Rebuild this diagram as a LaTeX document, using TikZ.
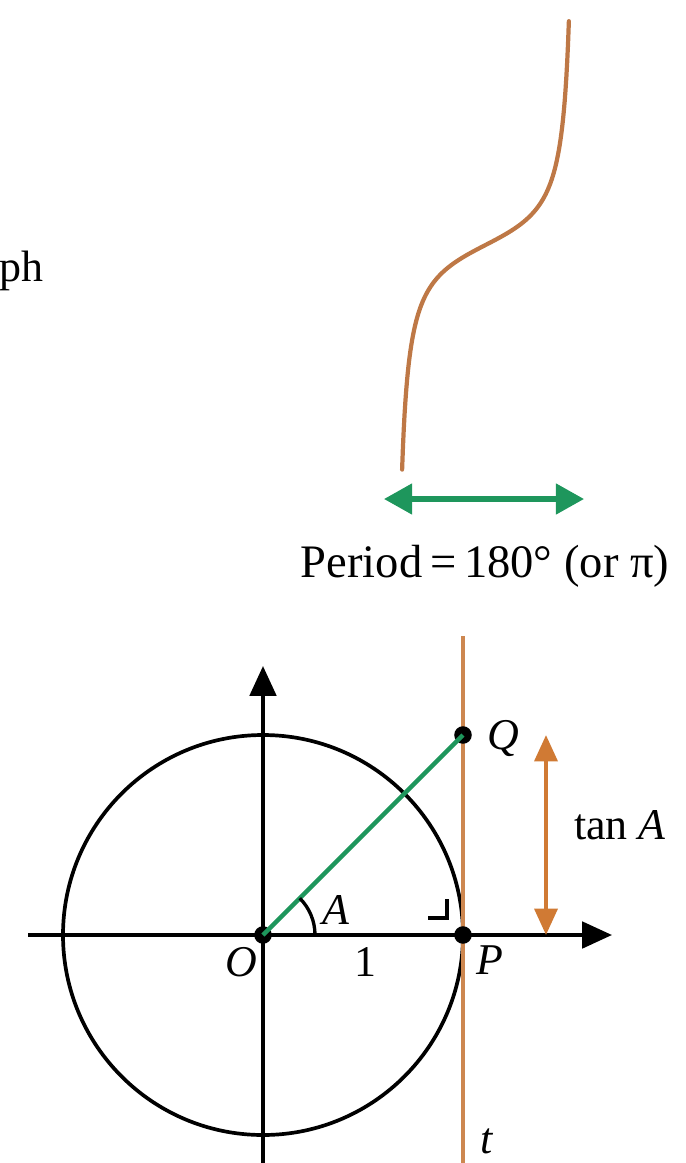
\documentclass[tikz,border=0pt]{standalone}
\usepackage{fontspec}
\setmainfont{Liberation Serif}
\usetikzlibrary{arrows.meta}
\definecolor{curveor}{RGB}{190,120,70}
\definecolor{lineor}{RGB}{205,135,80}
\definecolor{arrowor}{RGB}{208,122,52}
\definecolor{grn}{RGB}{30,150,92}
\tikzset{
  lbl/.style={font=\fontsize{25}{29}\selectfont, inner sep=0pt},
  dot/.style={circle, fill=black, inner sep=0pt, minimum size=10pt},
  axis/.style={line width=2.2pt, -{Triangle[length=17pt,width=15pt]}},
  circ/.style={line width=2.1pt},
}
\begin{document}
\begin{tikzpicture}[x=0.02cm,y=-0.02cm]
\useasboundingbox (0,0) rectangle (686,1163);
% top part
\node[lbl, anchor=base west] (ph) at (-1,281) {ph};
\draw[curveor, line width=2.4pt, line cap=round] plot[domain=-1.438:1.438, samples=200, variable=\t] ({485.5+58*\t},{245-30*tan(\t r)});
\coordinate (gl) at (384,499);
\coordinate (gr) at (584,499);
\draw[grn, line width=3pt, {Triangle[length=16pt,width=17pt]}-{Triangle[length=16pt,width=17pt]}] (gl) -- (gr);
\node[lbl, font=\fontsize{26.5}{30}\selectfont] (period) at (485,566) {Period\,=\,180° (or π)};
% bottom part
\coordinate (xl) at (28,935);
\coordinate (xr) at (612,935);
\coordinate (yb) at (263,1170);
\coordinate (yt) at (263,666);
\coordinate (ttop) at (463,636);
\coordinate (tbot) at (463,1170);
\draw[circ] (263,935) circle[radius=200];
\draw[lineor, line width=2.3pt] (ttop) -- (tbot);
\draw[axis] (xl) -- (xr);
\draw[axis] (yb) -- (yt);
\node[dot] (O) at (263,935) {};
\node[dot] (P) at (463,935) {};
\node[dot] (Q) at (463,735) {};
\draw[grn, line width=2.6pt] (O.center) -- (Q.center);
\draw[line width=1.9pt] (315,935) arc[start angle=0, end angle=-45, radius=52];
\draw[line width=2pt] (428,918) -- (447,918) -- (447,899);
\coordinate (tat) at (546,735);
\coordinate (tab) at (546,935);
\draw[arrowor, line width=2.3pt, {Triangle[length=15pt,width=13pt]}-{Triangle[length=15pt,width=13pt]}] (tab) -- (tat);
\node[lbl] (lA) at (336,910) {\textit{A}};
\node[lbl] (lO) at (241,962) {\textit{O}};
\node[lbl] (l1) at (365,962) {1};
\node[lbl] (lP) at (490,960) {\textit{P}};
\node[lbl] (lQ) at (503,739) {\textit{Q}};
\node[lbl] (ltan) at (620,825) {tan \textit{A}};
\node[lbl] (lt) at (487,1141) {\textit{t}};
\end{tikzpicture}
\end{document}
